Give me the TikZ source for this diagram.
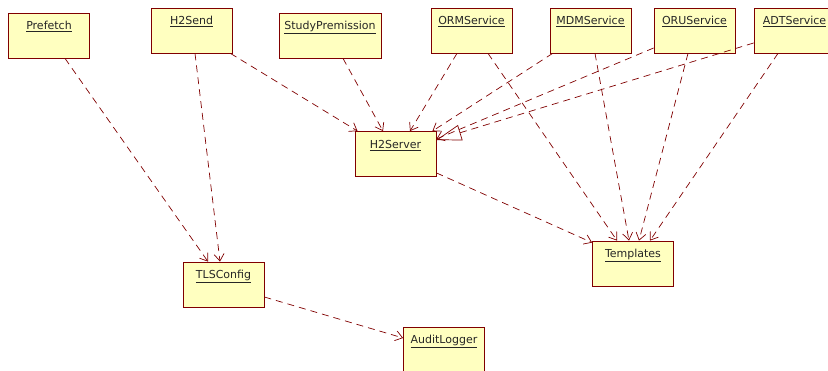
\documentclass[tikz,border=0pt]{standalone}
\usepackage{fontspec}
\setmainfont{DejaVu Sans}
\usetikzlibrary{arrows.meta}
\definecolor{umlred}{RGB}{128,0,0}
\definecolor{umlfill}{RGB}{255,255,192}

\begin{document}
\begin{tikzpicture}[x=1pt,y=-1pt,
        cls/.style={draw=umlred,fill=umlfill,line width=0.8pt,minimum width=81pt,
            inner xsep=2pt,inner ysep=5pt,text height=12pt,text depth=23pt,
            font=\fontsize{11}{13}\selectfont,text=black!85},
        dep/.style={umlred,line width=0.7pt,dash pattern=on 7pt off 5pt,
            -{Straight Barb[length=7pt,width=10pt]}},
        gen/.style={umlred,line width=0.7pt,dash pattern=on 7pt off 5pt,
            -{Triangle[open,length=25pt,width=16pt]}}]
        \useasboundingbox (0,0) rectangle (828,371);
        \node[cls] (prefetch) at (49,35.5) {\underline{Prefetch}};
        \node[cls] (h2send) at (191.5,30.5) {\underline{H2Send}};
        \node[cls,minimum width=102pt] (study) at (330,35.5) {\underline{StudyPremission}};
        \node[cls] (orm) at (471.5,30.5) {\underline{ORMService}};
        \node[cls] (mdm) at (590.5,30.5) {\underline{MDMService}};
        \node[cls] (oru) at (694.5,30.5) {\underline{ORUService}};
        \node[cls] (adt) at (794.5,30.5) {\underline{ADTService}};
        \node[cls] (h2server) at (395.5,154) {\underline{H2Server}};
        \node[cls] (tls) at (223.5,284.5) {\underline{TLSConfig}};
        \node[cls] (templates) at (633,263.5) {\underline{Templates}};
        \node[cls] (audit) at (444,349.5) {\underline{AuditLogger}};

        \draw[dep] ([xshift=16pt]prefetch.south) -- ([xshift=-15.5pt]tls.north);
        \draw[dep] ([xshift=3.5pt]h2send.south) -- ([xshift=-3.5pt]tls.north);
        \draw[dep] ([xshift=-2pt]h2send.south east) -- ([xshift=3pt]h2server.north west);
        \draw[dep] ([xshift=13pt]study.south) -- ([xshift=-12.5pt]h2server.north);
        \draw[dep] ([xshift=-14.5pt]orm.south) -- ([xshift=14.5pt]h2server.north);
        \draw[dep] ([xshift=3pt]mdm.south west) -- ([xshift=-4pt]h2server.north east);
        \draw[dep] ([yshift=-17.5pt]oru.west) -- ([yshift=15pt]h2server.east);
        \draw[gen] ([yshift=-12.5pt]adt.west) -- ([yshift=14pt]h2server.east);
        \draw[dep] ([xshift=16.5pt]orm.south) -- ([xshift=-16pt]templates.north);
        \draw[dep] ([xshift=4.5pt]mdm.south) -- ([xshift=-4pt]templates.north);
        \draw[dep] ([xshift=-6.5pt]oru.south) -- ([xshift=6pt]templates.north);
        \draw[dep] ([xshift=-16.5pt]adt.south) -- ([xshift=17pt]templates.north);
        \draw[dep] ([yshift=4pt]h2server.south east) -- ([yshift=-2pt]templates.north west);
        \draw[dep] ([yshift=-12.5pt]tls.east) -- ([yshift=11.5pt]audit.west);
\end{tikzpicture}
\end{document}
